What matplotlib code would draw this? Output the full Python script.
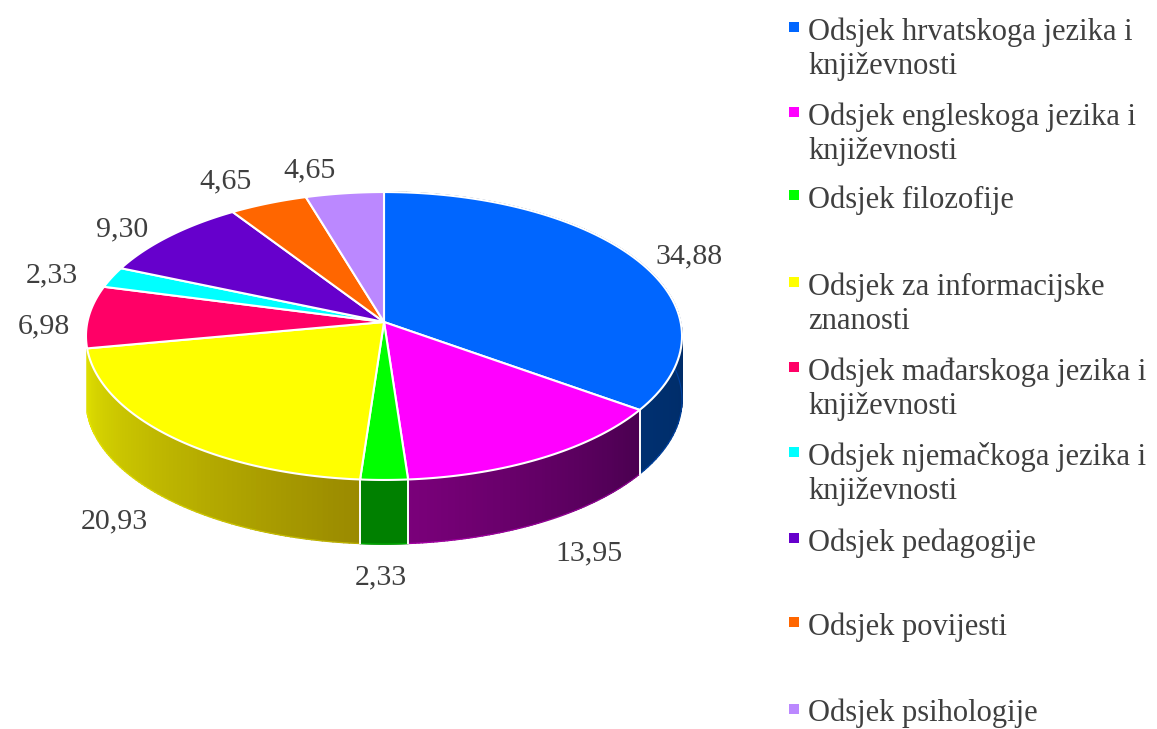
import numpy as np
import matplotlib
matplotlib.use("Agg")
import matplotlib.pyplot as plt
from matplotlib.collections import PolyCollection
from matplotlib.colors import to_rgb

# values, clockwise from twelve o'clock
valores = [34.88, 13.95, 2.33, 20.93, 6.98, 2.33, 9.30, 4.65, 4.65]
rotulos = ["34,88", "13,95", "2,33", "20,93", "6,98", "2,33", "9,30", "4,65", "4,65"]
legenda = [
    "Odsjek hrvatskoga jezika i\nknjiževnosti",
    "Odsjek engleskoga jezika i\nknjiževnosti",
    "Odsjek filozofije",
    "Odsjek za informacijske\nznanosti",
    "Odsjek mađarskoga jezika i\nknjiževnosti",
    "Odsjek njemačkoga jezika i\nknjiževnosti",
    "Odsjek pedagogije",
    "Odsjek povijesti",
    "Odsjek psihologije",
]

cores = ["#0066FF", "#FF00FF", "#00FF00", "#FFFF00", "#FF0066",
         "#00FFFF", "#6600CC", "#FF6600", "#BB88FF"]
# side wall gradient (start of slice -> end of slice, clockwise)
parede_ini = ["#00204F", "#4A0050", "#008000", "#9A8A00", "#99003D",
              "#009999", "#3D007A", "#993D00", "#705299"]
parede_fim = ["#003070", "#7A007A", "#008000", "#DEDE00", "#99003D",
              "#009999", "#3D007A", "#993D00", "#705299"]

rotulo_pos = [(689, 256), (589, 553), (381, 577), (114, 521), (44, 326),
              (52, 275), (122, 229), (225, 181), (310, 170)]
legenda_y = [30, 115, 198, 285, 370, 455, 541, 625, 712]

TEXTO = "#3F3F3F"
CX, CY = 384, 322
RX, RY = 296.6, 142.6
K = 0.0972
ALTURA = 64
ULTIMA_PAREDE = np.radians(200)  # slices starting past this angle show no wall


def projetar(ang):
    """Perspective projection of the unit circle, ang clockwise from the top."""
    u, v = np.sin(ang), -np.cos(ang)
    d = 1 - K * v
    return CX + RX * u / d, CY + RY * v / d


fig = plt.figure(figsize=(11.57, 7.29), dpi=100)
ax = fig.add_axes([0, 0, 1, 1])
ax.set_xlim(0, 1157)
ax.set_ylim(729, 0)
ax.axis("off")

limites = np.radians(np.cumsum([0] + valores) / sum(valores) * 360)

# side walls first, the top covers whatever lies behind it
for i in range(len(valores)):
    if limites[i] > ULTIMA_PAREDE:
        continue
    ang = np.linspace(limites[i], limites[i + 1], 80)
    x, y = projetar(ang)
    quads = [[(x[j], y[j]), (x[j + 1], y[j + 1]),
              (x[j + 1], y[j + 1] + ALTURA), (x[j], y[j] + ALTURA)]
             for j in range(len(x) - 1)]
    t = np.linspace(0, 1, len(quads))[:, None]
    cor = (1 - t) * np.array(to_rgb(parede_ini[i])) + t * np.array(to_rgb(parede_fim[i]))
    ax.add_collection(PolyCollection(quads, facecolors=cor, edgecolors=cor,
                                     linewidths=1.0, zorder=2))
    # pale rim along the bottom of the wall
    ax.plot(x, y + ALTURA, color=cores[i], lw=0.8, alpha=0.35, zorder=2.5)

# white seams between the wall sections
for a in limites[1:4]:
    x, y = projetar(a)
    ax.plot([x, x], [y, y + ALTURA], color="white", lw=1.4, zorder=3)

# top surface
for i in range(len(valores)):
    ang = np.linspace(limites[i], limites[i + 1], 80)
    x, y = projetar(ang)
    ax.fill(np.r_[CX, x], np.r_[CY, y], facecolor=cores[i], edgecolor="white",
            linewidth=1.5, joinstyle="round", zorder=4)

for txt, (x, y) in zip(rotulos, rotulo_pos):
    ax.text(x, y, txt, ha="center", va="center", fontsize=21.5,
            family="Liberation Serif", color=TEXTO, zorder=5)

for txt, cor, y in zip(legenda, cores, legenda_y):
    ax.scatter([794], [y - 3], marker="s", s=50, color=cor, linewidths=0, zorder=5)
    ax.text(808, y - 13, txt, ha="left", va="top", fontsize=22, linespacing=1.24,
            family="Liberation Serif", color=TEXTO, zorder=5)

fig.savefig("out.png", dpi=100)
